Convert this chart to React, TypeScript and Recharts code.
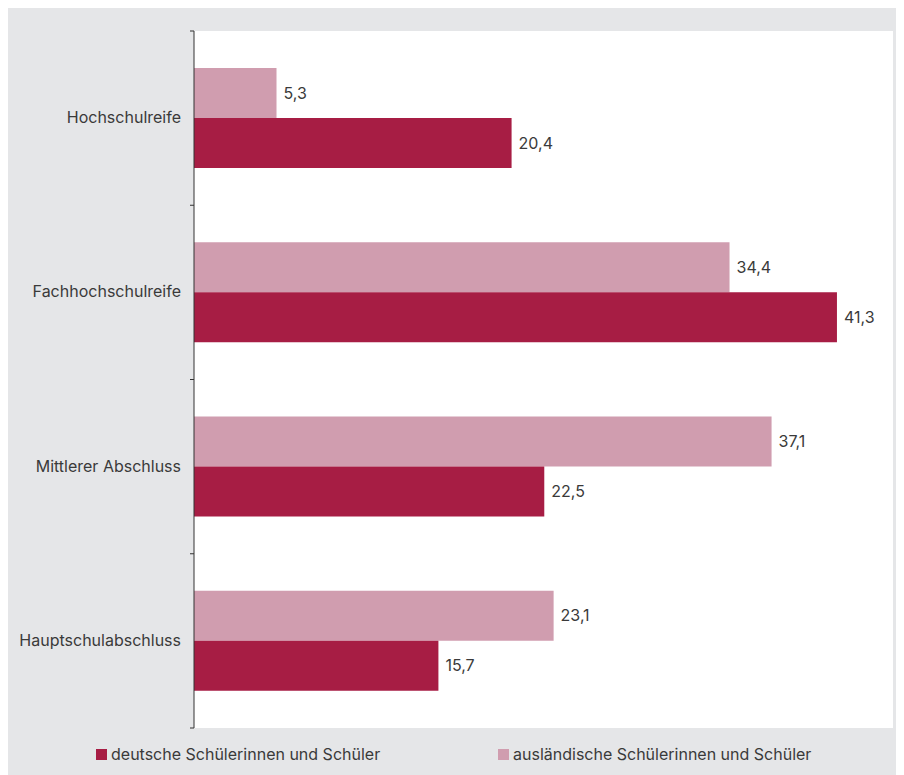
import { BarChart, Bar, XAxis, YAxis, CartesianGrid, LabelList } from 'recharts';

const categories = ['Hochschulreife', 'Fachhochschulreife', 'Mittlerer Abschluss', 'Hauptschulabschluss'];
const deutsche = [20.4, 41.3, 22.5, 15.7];
const auslaendische = [5.3, 34.4, 37.1, 23.1];
const seriesLabels = {
  deutsche: 'deutsche Schülerinnen und Schüler',
  auslaendische: 'ausländische Schülerinnen und Schüler',
};

const data = categories.map((name, i) => ({
  name,
  deutsche: deutsche[i],
  auslaendische: auslaendische[i],
}));

const W = 896;
const H = 767;
const MARGIN = { top: 23, right: 11, bottom: 47, left: 0 };
const TICK_MARGIN = 13;
const DARK = '#a71d44';
const PINK = '#d09daf';
const TEXT = '#3a3a3a';
const BG = '#e5e6e8';
const FONT = 'Inter, "DejaVu Sans", sans-serif';
const FS = 16;

const bandHeight = (H - MARGIN.top - MARGIN.bottom) / categories.length;

function CategoryTick(props: any) {
  const { x, y, payload, index } = props;
  const axisX = x + TICK_MARGIN;
  return (
    <g>
      <text x={x} y={y} dy={5} textAnchor="end" fill={TEXT} fontSize={FS} fontFamily={FONT}>
        {payload.value}
      </text>
      <line x1={axisX - 4} x2={axisX} y1={y - bandHeight / 2} y2={y - bandHeight / 2} stroke="#333" />
      {index === categories.length - 1 && (
        <line x1={axisX - 4} x2={axisX} y1={y + bandHeight / 2} y2={y + bandHeight / 2} stroke="#333" />
      )}
    </g>
  );
}

const fmt = (v: any) => String(v).replace('.', ',');

export default function App() {
  return (
    <div style={{ position: 'relative', width: W, height: H, background: BG, fontFamily: FONT }}>
      <BarChart
        width={W}
        height={H}
        data={data}
        layout="vertical"
        margin={MARGIN}
        barGap={0}
        barSize={50}
      >
        <CartesianGrid horizontal={false} vertical={false} fill="#ffffff" stroke="none" />
        <XAxis type="number" domain={[0, 44.9]} hide />
        <YAxis
          type="category"
          dataKey="name"
          width={186}
          interval={0}
          axisLine={{ stroke: '#333' }}
          tickLine={false}
          tickSize={0}
          tickMargin={TICK_MARGIN}
          tick={<CategoryTick />}
        />
        <Bar dataKey="auslaendische" fill={PINK} isAnimationActive={false}>
          <LabelList dataKey="auslaendische" position="right" offset={7} formatter={fmt} fill={TEXT} fontSize={FS} fontFamily={FONT} />
        </Bar>
        <Bar dataKey="deutsche" fill={DARK} isAnimationActive={false}>
          <LabelList dataKey="deutsche" position="right" offset={7} formatter={fmt} fill={TEXT} fontSize={FS} fontFamily={FONT} />
        </Bar>
      </BarChart>
      <div
        style={{
          position: 'absolute',
          top: 736,
          left: 88,
          display: 'flex',
          fontSize: FS,
          color: TEXT,
        }}
      >
        {[
          { label: seriesLabels.deutsche, color: DARK },
          { label: seriesLabels.auslaendische, color: PINK },
        ].map((item) => (
          <div key={item.label} style={{ width: 402, display: 'flex', alignItems: 'center', height: 20 }}>
            <span style={{ width: 11, height: 11, background: item.color, display: 'inline-block', marginRight: 4 }} />
            <span>{item.label}</span>
          </div>
        ))}
      </div>
    </div>
  );
}
